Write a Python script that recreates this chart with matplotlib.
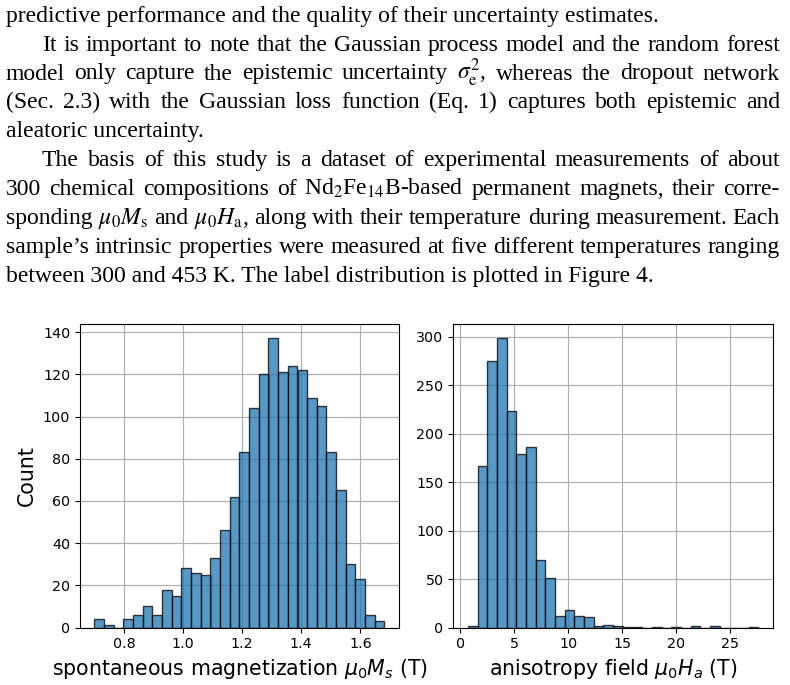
import numpy as np
import matplotlib
matplotlib.use("Agg")
import matplotlib.pyplot as plt

# ── Data ────────────────────────────────────────────────────────────────────

# spontaneous magnetization mu0*Ms (T): 30 bins
ms_range = (0.70, 1.682)
ms_counts = [4, 1, 0, 4, 6, 10, 6, 18, 15, 28, 26, 25, 33, 46, 62,
             83, 104, 120, 137, 121, 124, 122, 109, 105, 83, 65, 30, 23, 6, 3]

# anisotropy field mu0*Ha (T): 30 bins
ha_range = (0.70, 27.6)
ha_counts = [2, 166, 275, 298, 223, 179, 186, 70, 51, 12, 18, 12, 11, 2, 3,
             2, 1, 1, 0, 1, 0, 1, 0, 2, 0, 2, 0, 0, 0, 1]

ms_ticks = [0.8, 1.0, 1.2, 1.4, 1.6]
ha_ticks = [0, 5, 10, 15, 20, 25]

# paragraph text above the figure: (text, indented, justified)
paragraph = [
    ("predictive performance and the quality of their uncertainty estimates.", False, False),
    ("It is important to note that the Gaussian process model and the random forest", True, True),
    (r"model only capture the epistemic uncertainty $\sigma_\mathrm{e}^2$, whereas the dropout network", False, True),
    ("(Sec. 2.3) with the Gaussian loss function (Eq. 1) captures both epistemic and", False, True),
    ("aleatoric uncertainty.", False, False),
    ("The basis of this study is a dataset of experimental measurements of about", True, True),
    (r"300 chemical compositions of Nd$_2$Fe$_{14}$B-based permanent magnets, their corre-", False, True),
    (r"sponding $\mu_0M_\mathrm{s}$ and $\mu_0H_\mathrm{a}$, along with their temperature during measurement. Each", False, True),
    ("sample\u2019s intrinsic properties were measured at five different temperatures ranging", False, True),
    ("between 300 and 453 K. The label distribution is plotted in Figure 4.", False, False),
]

W, H = 790, 685
fig = plt.figure(figsize=(W / 100, H / 100), dpi=100)
renderer = fig.canvas.get_renderer()

# ── Paragraph (justified, word by word) ────────────────────────────────────
x_left, x_right, x_indent = 6 / W, 780 / W, 42 / W
text_kw = dict(family="Liberation Serif", fontsize=17, math_fontfamily="stix",
               va="baseline", ha="left")
for i, (line, indent, justify) in enumerate(paragraph):
    y = 1 - (21.7 + 28.9 * i) / H
    x0 = x_indent if indent else x_left
    if not justify:
        fig.text(x0, y, line, **text_kw)
        continue
    words = line.split(" ")
    objs = [fig.text(x0, y, w, **text_kw) for w in words]
    widths = [o.get_window_extent(renderer).width / W for o in objs]
    gap = (x_right - x0 - sum(widths)) / (len(words) - 1)
    x = x0
    for o, w in zip(objs, widths):
        o.set_x(x)
        x += w + gap

# ── Histograms ──────────────────────────────────────────────────────────────
ax1 = fig.add_axes([80 / W, 1 - 627.5 / H, 319 / W, 303.5 / H])
ax2 = fig.add_axes([453.3 / W, 1 - 627.5 / H, 319.7 / W, 303.5 / H])

bar_kw = dict(align="edge", color="#1f77b4", edgecolor="black", alpha=0.75, linewidth=1.0)
for ax, rng, counts in [(ax1, ms_range, ms_counts), (ax2, ha_range, ha_counts)]:
    edges = np.linspace(rng[0], rng[1], len(counts) + 1)
    ax.bar(edges[:-1], counts, width=np.diff(edges), **bar_kw)
    ax.set_axisbelow(True)
    ax.grid(True, color="#b0b0b0", linewidth=0.9)
    ax.tick_params(labelsize=10.3)

ax1.set_xticks(ms_ticks)
ax2.set_xticks(ha_ticks)
ax1.set_ylabel("Count", fontsize=14.8)
ax1.set_xlabel(r"spontaneous magnetization $\mu_0M_s$ (T)", fontsize=14.8)
ax2.set_xlabel(r"anisotropy field $\mu_0H_a$ (T)", fontsize=14.8)

fig.savefig("out.png", dpi=100)
